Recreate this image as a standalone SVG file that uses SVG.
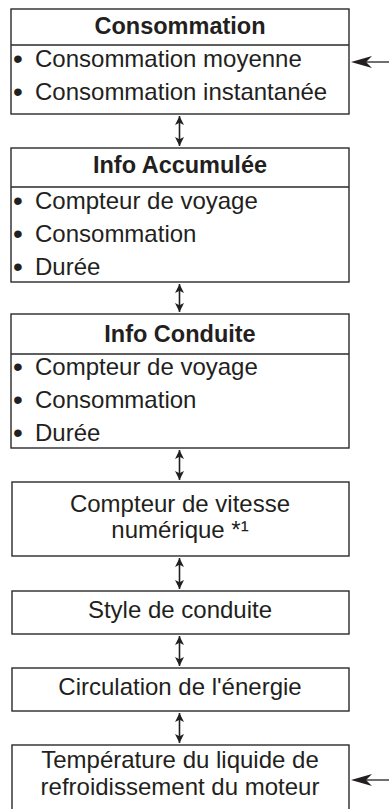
<svg xmlns="http://www.w3.org/2000/svg" width="389" height="809" viewBox="0 0 389 809">
<defs>
<style>
.box{fill:#fff;stroke:#2a2a2a;stroke-width:1.4}
.div{stroke:#2a2a2a;stroke-width:1.4}
.h{font-family:"Liberation Sans",Arial,sans-serif;font-weight:bold;font-size:23.5px;fill:#231f20;text-anchor:middle}
.t{font-family:"Liberation Sans",Arial,sans-serif;font-size:24px;fill:#231f20}
.b{font-size:28px}
.c{font-family:"Liberation Sans",Arial,sans-serif;font-size:24px;fill:#231f20;text-anchor:middle}
.v{stroke:#231f20;stroke-width:1.6;fill:none;marker-start:url(#ah);marker-end:url(#ah)}
.r{stroke:#231f20;stroke-width:1.3;fill:none}
.rh{fill:#231f20}
</style>
<marker id="ah" viewBox="0 0 10 10" refX="10" refY="5" markerWidth="9" markerHeight="11" markerUnits="userSpaceOnUse" orient="auto-start-reverse">
<path d="M0,0 L10,5 L0,10 L2.5,5 z" fill="#231f20"/>
</marker>
</defs>

<g id="n1">
<rect class="box" x="11" y="9" width="338" height="105"/>
<line class="div" x1="11" y1="45" x2="349" y2="45"/>
<text class="h" x="180" y="34">Consommation</text>
<text class="t" y="67"><tspan class="b" x="13" dy="1">•</tspan><tspan x="35" dy="-1">Consommation moyenne</tspan></text>
<text class="t" y="100"><tspan class="b" x="13" dy="1">•</tspan><tspan x="35" dy="-1">Consommation instantanée</tspan></text>
</g>

<g id="n2">
<rect class="box" x="11" y="148" width="338" height="134"/>
<line class="div" x1="11" y1="187" x2="349" y2="187"/>
<text class="h" x="180" y="173">Info Accumulée</text>
<text class="t" y="209"><tspan class="b" x="13" dy="1">•</tspan><tspan x="35" dy="-1">Compteur de voyage</tspan></text>
<text class="t" y="242"><tspan class="b" x="13" dy="1">•</tspan><tspan x="35" dy="-1">Consommation</tspan></text>
<text class="t" y="275"><tspan class="b" x="13" dy="1">•</tspan><tspan x="35" dy="-1">Durée</tspan></text>
</g>

<g id="n3">
<rect class="box" x="11" y="314" width="338" height="134"/>
<line class="div" x1="11" y1="354" x2="349" y2="354"/>
<text class="h" x="180" y="342">Info Conduite</text>
<text class="t" y="375"><tspan class="b" x="13" dy="1">•</tspan><tspan x="35" dy="-1">Compteur de voyage</tspan></text>
<text class="t" y="408"><tspan class="b" x="13" dy="1">•</tspan><tspan x="35" dy="-1">Consommation</tspan></text>
<text class="t" y="441"><tspan class="b" x="13" dy="1">•</tspan><tspan x="35" dy="-1">Durée</tspan></text>
</g>

<g id="n4">
<rect class="box" x="12" y="482" width="337" height="74"/>
<text class="c" x="180" y="512">Compteur de vitesse</text>
<text class="c" x="180" y="538">numérique *¹</text>
</g>

<g id="n5">
<rect class="box" x="12" y="591" width="337" height="43"/>
<text class="c" x="180" y="618">Style de conduite</text>
</g>

<g id="n6">
<rect class="box" x="12" y="668" width="337" height="43"/>
<text class="c" x="180" y="695">Circulation de l'énergie</text>
</g>

<g id="n7">
<rect class="box" x="12" y="745" width="337" height="80"/>
<text class="c" x="180" y="768">Température du liquide de</text>
<text class="c" x="180" y="795">refroidissement du moteur</text>
</g>

<g id="connectors">
<line class="v" x1="179.5" y1="116" x2="179.5" y2="146"/>
<line class="v" x1="179.5" y1="284" x2="179.5" y2="312"/>
<line class="v" x1="179.5" y1="450" x2="179.5" y2="480"/>
<line class="v" x1="179.5" y1="558" x2="179.5" y2="589"/>
<line class="v" x1="179.5" y1="636" x2="179.5" y2="666"/>
<line class="v" x1="179.5" y1="713" x2="179.5" y2="743"/>
<line class="r" x1="366" y1="62" x2="389" y2="62"/>
<path class="rh" d="M351,62 L372,56 L366,62 L372,68 z"/>
<line class="r" x1="366" y1="780" x2="389" y2="780"/>
<path class="rh" d="M351,780 L372,774 L366,780 L372,786 z"/>
</g>
</svg>
